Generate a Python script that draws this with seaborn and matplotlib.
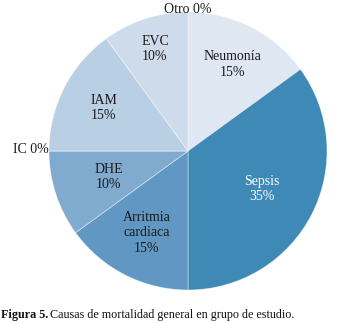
import matplotlib
matplotlib.use("Agg")
import matplotlib.pyplot as plt
import seaborn as sns
import numpy as np

# data
causes = ["Otro", "Neumonía", "Sepsis", "Arritmia\ncardiaca", "DHE", "IC", "IAM", "EVC"]
pcts = [0, 15, 35, 15, 10, 0, 15, 10]
colors = ["#E2E9F3", "#DFE7F2", "#3E89B5", "#6198C3", "#80AACE", "#9DBEDA", "#B9CFE4", "#CEDBEA"]
label_r = [1.0, 0.70, 0.60, 0.66, 0.60, 1.0, 0.68, 0.77]

sns.set_theme(style="white")
plt.rcParams["font.family"] = ["Liberation Serif", "DejaVu Serif"]

fig = plt.figure(figsize=(3.61, 3.23), dpi=100)
ax = fig.add_axes([49 / 361, 33 / 323, 278 / 361, 278 / 323])

wedges, _ = ax.pie(pcts, colors=colors, startangle=90, counterclock=False,
                   wedgeprops=dict(linewidth=0.6, edgecolor=(1, 1, 1, 0.45)))
ax.set_xlim(-1, 1)
ax.set_ylim(-1, 1)
ax.set_aspect("equal")

for w, name, p, r in zip(wedges, causes, pcts, label_r):
    mid = np.deg2rad((w.theta1 + w.theta2) / 2)
    txt = f"{name}\n{p}%"
    if p == 0:
        # zero slices are labelled outside the pie
        if name == "Otro":
            ax.text(0, 1.015, f"{name} {p}%", ha="center", va="center",
                    fontsize=10, color="#1a1a1a", clip_on=False)
        else:
            ax.text(-1.0, 0.01, f"{name} {p}%", ha="right", va="center",
                    fontsize=10, color="#1a1a1a", clip_on=False)
        continue
    ax.text(r * np.cos(mid), r * np.sin(mid), txt, ha="center", va="center",
            fontsize=10, linespacing=1.25,
            color="white" if name == "Sepsis" else "#1a1a1a")

t1 = fig.text(0.003, 0.026, "Figura 5.", fontsize=8.7, fontweight="bold",
              ha="left", va="center", color="#111111")
fig.canvas.draw()
bb = t1.get_window_extent()
fig.text(bb.x1 / fig.bbox.width + 0.006, 0.026,
         "Causas de mortalidad general en grupo de estudio.",
         fontsize=8.7, ha="left", va="center", color="#111111")

fig.savefig("out.png", dpi=100)
